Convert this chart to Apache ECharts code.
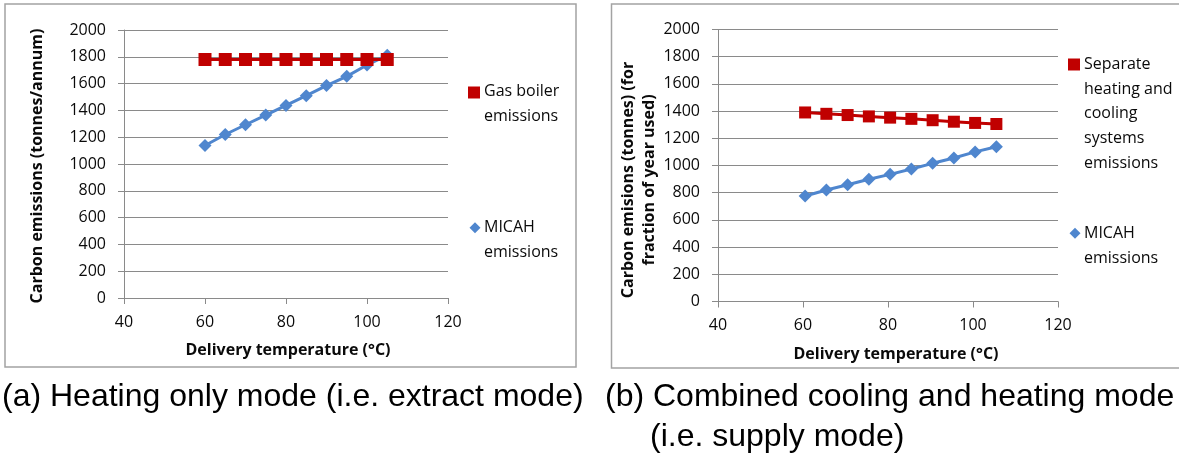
<!DOCTYPE html>
<html>
<head>
<meta charset="utf-8">
<script src="https://cdn.jsdelivr.net/npm/echarts@6/dist/echarts.min.js"></script>
<style>
html,body{margin:0;padding:0;background:#fff;}
#chart{width:1179px;height:457px;}
</style>
</head>
<body>
<div id="chart"></div>
<script>
// ---- data ----
var tempA = [60, 65, 70, 75, 80, 85, 90, 95, 100, 105];
var gasBoilerA = [1780, 1780, 1780, 1780, 1780, 1780, 1780, 1780, 1780, 1780];
var micahA = [1138, 1220, 1293, 1365, 1437, 1510, 1585, 1654, 1739, 1811];

var tempB = [60.5, 65.5, 70.5, 75.5, 80.5, 85.5, 90.5, 95.5, 100.5, 105.5];
var separateB = [1390, 1380, 1371, 1361, 1352, 1343, 1333, 1322, 1313, 1305];
var micahB = [776, 820, 859, 899, 935, 974, 1016, 1055, 1100, 1138];

var xTicks = [40, 60, 80, 100, 120];
var yTicks = [0, 200, 400, 600, 800, 1000, 1200, 1400, 1600, 1800, 2000];

var seriesNamesA = ['Gas boiler\nemissions', 'MICAH\nemissions'];
var seriesNamesB = ['Separate\nheating and\ncooling\nsystems\nemissions', 'MICAH\nemissions'];
var xTitle = 'Delivery temperature (°C)';
var yTitleA = 'Carbon emissions (tonnes/annum)';
var yTitleB = 'Carbon emisions (tonnes) (for\nfraction of year used)';
var captionA = '(a) Heating only mode (i.e. extract mode)';
var captionB1 = '(b) Combined cooling and heating mode';
var captionB2 = '(i.e. supply mode)';

// ---- style ----
var FONT = 'Open Sans';
var RED = '#C00000';
var BLUE = '#4F86CE';
var GRID = '#8a8a8a';
var TXT = '#0a0a0a';

function zip(xs, ys) { return xs.map(function (x, i) { return [x, ys[i]]; }); }
function plain(v) { return String(v); }

function xAxisCfg(idx) {
  return {
    gridIndex: idx, type: 'value', min: xTicks[0], max: xTicks[xTicks.length - 1], interval: 20,
    axisLine: { show: true, onZero: false, lineStyle: { color: GRID, width: 1 } },
    axisTick: { show: true, length: 6, lineStyle: { color: GRID, width: 1 } },
    splitLine: { show: false },
    axisLabel: { fontFamily: FONT, fontSize: 16, color: TXT, margin: 16, formatter: plain }
  };
}
function yAxisCfg(idx) {
  return {
    gridIndex: idx, type: 'value', min: yTicks[0], max: yTicks[yTicks.length - 1], interval: 200,
    axisLine: { show: true, onZero: false, lineStyle: { color: GRID, width: 1 } },
    axisTick: { show: true, length: 6, lineStyle: { color: GRID, width: 1 } },
    splitLine: { show: true, lineStyle: { color: GRID, width: 1 } },
    axisLabel: { fontFamily: FONT, fontSize: 16, color: TXT, margin: 18, formatter: plain }
  };
}
function lineSeries(name, idx, data, color, symbol, size) {
  return {
    name: name, type: 'line', xAxisIndex: idx, yAxisIndex: idx, data: data,
    symbol: symbol, symbolSize: size, showSymbol: true,
    lineStyle: { color: color, width: 3 },
    itemStyle: { color: color, borderWidth: 0 },
    emphasis: { disabled: true }
  };
}

function legendText(x, yFirst, txt, lh) {
  return { type: 'text', x: x, y: yFirst - lh / 2,
    style: { text: txt, fontFamily: FONT, fontSize: 16, fill: TXT, lineHeight: lh,
      textAlign: 'left', textVerticalAlign: 'top' } };
}
function square(cx, cy, s, color) {
  return { type: 'rect', shape: { x: cx - s / 2, y: cy - s / 2, width: s, height: s }, style: { fill: color } };
}
function diamond(cx, cy, s, color) {
  var h = s / 2;
  return { type: 'polygon', shape: { points: [[cx, cy - h], [cx + h, cy], [cx, cy + h], [cx - h, cy]] }, style: { fill: color } };
}

var chart = echarts.init(document.getElementById('chart'), null, { renderer: 'canvas' });
chart.setOption({
  animation: false,
  backgroundColor: '#ffffff',
  grid: [
    { left: 124, top: 30, width: 324, height: 268 },
    { left: 718, top: 29.5, width: 340, height: 272 }
  ],
  xAxis: [xAxisCfg(0), xAxisCfg(1)],
  yAxis: [yAxisCfg(0), yAxisCfg(1)],
  series: [
    lineSeries(seriesNamesA[1], 0, zip(tempA, micahA), BLUE, 'diamond', 13),
    lineSeries(seriesNamesA[0], 0, zip(tempA, gasBoilerA), RED, 'rect', 13),
    lineSeries(seriesNamesB[1], 1, zip(tempB, micahB), BLUE, 'diamond', 13),
    lineSeries(seriesNamesB[0], 1, zip(tempB, separateB), RED, 'rect', 12)
  ],
  graphic: [
    // chart frames
    { type: 'rect', shape: { x: 5, y: 4, width: 571, height: 363 }, style: { fill: null, stroke: '#a3a3a3', lineWidth: 1.5 }, z: -1 },
    { type: 'rect', shape: { x: 611.5, y: 4, width: 580, height: 364 }, style: { fill: null, stroke: '#a3a3a3', lineWidth: 1.5 }, z: -1 },
    // axis titles
    { type: 'text', x: 37, y: 166, rotation: Math.PI / 2,
      style: { text: yTitleA, fontFamily: FONT, fontSize: 16, fontWeight: 'bold', fill: TXT, textAlign: 'center', textVerticalAlign: 'middle' } },
    { type: 'text', x: 288, y: 350,
      style: { text: xTitle, fontFamily: FONT, fontSize: 16, fontWeight: 'bold', fill: TXT, textAlign: 'center', textVerticalAlign: 'middle' } },
    { type: 'text', x: 638.5, y: 180, rotation: Math.PI / 2,
      style: { text: yTitleB, fontFamily: FONT, fontSize: 16, fontWeight: 'bold', fill: TXT, lineHeight: 21, textAlign: 'center', textVerticalAlign: 'middle' } },
    { type: 'text', x: 896, y: 354,
      style: { text: xTitle, fontFamily: FONT, fontSize: 16, fontWeight: 'bold', fill: TXT, textAlign: 'center', textVerticalAlign: 'middle' } },
    // legends (a)
    square(474, 92.5, 12, RED),
    legendText(484, 91.7, seriesNamesA[0], 24.4),
    diamond(475, 227.7, 11, BLUE),
    legendText(484, 227.7, seriesNamesA[1], 24.4),
    // legends (b)
    square(1074, 64.5, 12, RED),
    legendText(1084, 64.3, seriesNamesB[0], 24.7),
    diamond(1075, 233.3, 11, BLUE),
    legendText(1084, 233.3, seriesNamesB[1], 25.5),
    // captions
    { type: 'text', x: 2, y: 397,
      style: { text: captionA, fontFamily: 'Liberation Sans', fontSize: 32, fill: '#000', textAlign: 'left', textVerticalAlign: 'middle' } },
    { type: 'text', x: 605, y: 397,
      style: { text: captionB1, fontFamily: 'Liberation Sans', fontSize: 32, fill: '#000', textAlign: 'left', textVerticalAlign: 'middle' } },
    { type: 'text', x: 650, y: 437,
      style: { text: captionB2, fontFamily: 'Liberation Sans', fontSize: 32, fill: '#000', textAlign: 'left', textVerticalAlign: 'middle' } }
  ]
});
</script>
</body>
</html>
